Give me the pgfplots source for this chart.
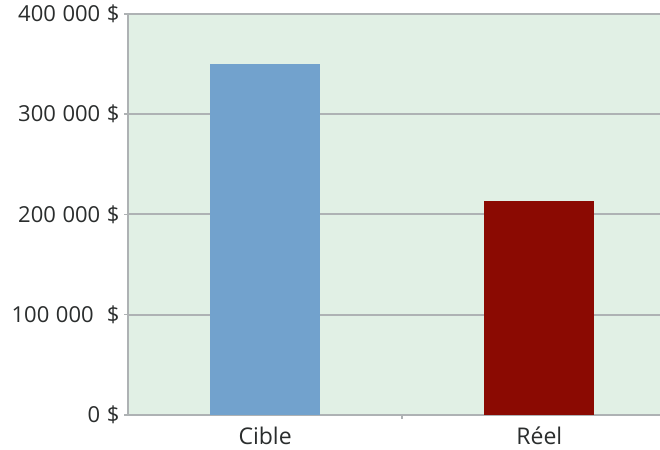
\documentclass[border=0pt]{standalone}
\usepackage{pgfplots}
\pgfplotsset{compat=1.18}
\usepackage{fontspec}
\setmainfont{Open Sans}

\definecolor{plotbg}{HTML}{E1F0E5}
\definecolor{gridgray}{HTML}{AEB2B4}
\definecolor{barblue}{HTML}{72A2CD}
\definecolor{barred}{HTML}{8B0A02}
\definecolor{labelgray}{HTML}{2A2D2D}

% gap used between digit groups and before the currency sign
\newcommand{\gap}{\hspace{0.3em}}

\begin{document}
\begin{tikzpicture}
\useasboundingbox (0,0) rectangle (660bp,450bp);
\begin{axis}[
  at={(128bp,35bp)}, anchor=south west,
  scale only axis,
  width=532bp, height=401bp,
  xmin=-0.5, xmax=1.44,
  ymin=0, ymax=400000,
  axis background/.style={fill=plotbg},
  axis x line*=bottom, axis y line*=left,
  axis line style={draw=gridgray, line width=2bp, -},
  ytick={0,100000,200000,300000,400000},
  yticklabels={0\gap\$,100\gap000\gap\gap\$,200\gap000\gap\$,300\gap000\gap\$,400\gap000\gap\$},
  scaled y ticks=false,
  ymajorgrids,
  major grid style={draw=gridgray, line width=2bp},
  tick align=outside,
  major tick length=4bp,
  tick style={draw=gridgray, line width=1.5bp},
  xtick={0,1},
  xticklabels={Cible,Réel},
  major x tick style={draw=none},
  extra x ticks={0.5},
  extra x tick labels={},
  extra x tick style={major x tick style={draw=gridgray, line width=1.5bp}, xmajorgrids=false},
  tick label style={text=labelgray},
  yticklabel style={font=\fontsize{22bp}{24bp}\selectfont, xshift=-1bp},
  xticklabel style={font=\fontsize{23bp}{26bp}\selectfont, anchor=base, inner sep=0pt, yshift=-25bp},
  ybar, bar width=110bp, bar shift=0pt,
]
\addplot[fill=barblue, draw=none] coordinates {(0,350000)};
\addplot[fill=barred, draw=none] coordinates {(1,213500)};
\end{axis}
\end{tikzpicture}
\end{document}
